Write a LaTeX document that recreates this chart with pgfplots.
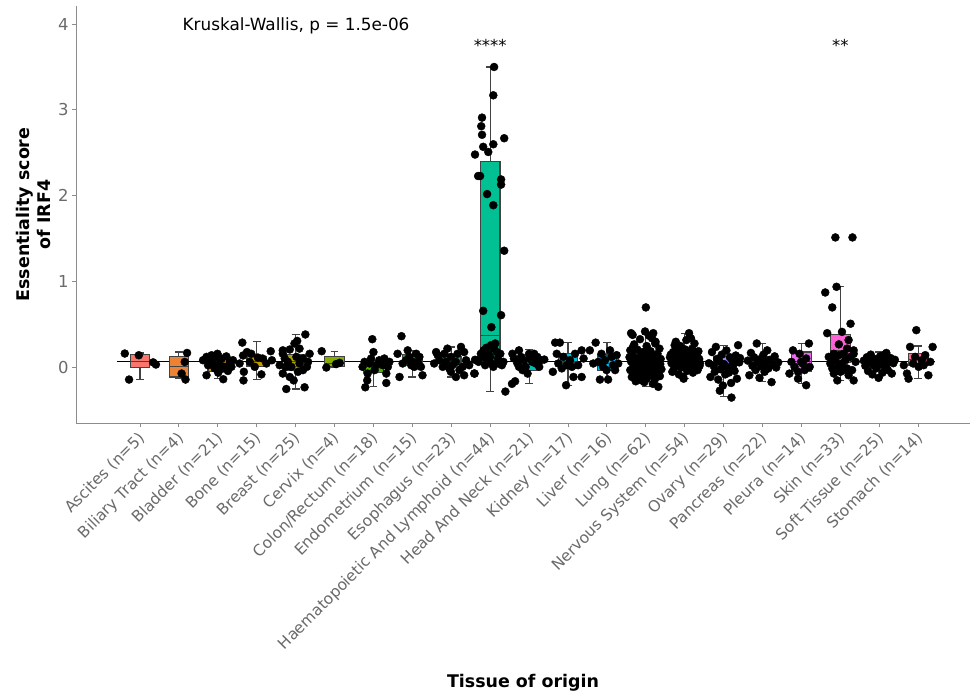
\documentclass[border=0pt]{standalone}
\usepackage{fontspec}
\setmainfont{DejaVu Sans}
\usepackage{pgfplots}
\usepackage{pgfplotstable}
\pgfplotsset{compat=1.18}
\usepgfplotslibrary{statistics}
\usetikzlibrary{calc}

\definecolor{c1}{HTML}{F8766D}
\definecolor{c2}{HTML}{EB8335}
\definecolor{c3}{HTML}{DA8F00}
\definecolor{c4}{HTML}{C39A00}
\definecolor{c5}{HTML}{A9A400}
\definecolor{c6}{HTML}{86AC00}
\definecolor{c7}{HTML}{4CB400}
\definecolor{c8}{HTML}{00BA38}
\definecolor{c9}{HTML}{00BE6C}
\definecolor{c10}{HTML}{00C094}
\definecolor{c11}{HTML}{00C0B8}
\definecolor{c12}{HTML}{00BDD3}
\definecolor{c13}{HTML}{00B5EC}
\definecolor{c14}{HTML}{00ABFD}
\definecolor{c15}{HTML}{619CFF}
\definecolor{c16}{HTML}{A58AFF}
\definecolor{c17}{HTML}{CF78FF}
\definecolor{c18}{HTML}{EB68EF}
\definecolor{c19}{HTML}{FC61D5}
\definecolor{c20}{HTML}{FF63B7}
\definecolor{c21}{HTML}{FF6C90}
\definecolor{boxc}{HTML}{424242}
\definecolor{axc}{HTML}{8C8C8C}
\definecolor{tlc}{HTML}{6A6A6A}

% category, lower whisker, lower quartile, median, upper quartile, upper whisker
\pgfplotstableread{
pos lw q1 med q3 uw
1 -0.14 0.00 0.07 0.155 0.17
2 -0.13 -0.11 0.015 0.13 0.18
3 -0.13 -0.05 0.02 0.09 0.16
4 -0.14 0.01 0.07 0.13 0.30
5 -0.25 -0.03 0.07 0.15 0.38
6 0.00 0.01 0.05 0.13 0.19
7 -0.225 -0.06 0.045 0.085 0.16
8 -0.11 0.025 0.09 0.155 0.20
9 -0.11 0.01 0.07 0.13 0.24
10 -0.28 0.06 0.375 2.40 3.50
11 -0.19 -0.03 0.07 0.145 0.21
12 -0.205 -0.01 0.065 0.165 0.29
13 -0.14 -0.03 0.05 0.145 0.29
14 -0.22 -0.03 0.06 0.16 0.38
15 -0.13 0.00 0.07 0.16 0.40
16 -0.34 -0.06 0.05 0.13 0.26
17 -0.16 -0.01 0.065 0.13 0.28
18 -0.19 -0.04 0.07 0.18 0.28
19 -0.15 0.06 0.20 0.38 0.94
20 -0.12 -0.01 0.05 0.11 0.18
21 -0.13 0.03 0.09 0.16 0.25
}\boxstats

\pgfplotstableread{
x y
0.61 0.163
0.97 0.143
1.34 0.06
1.41 0.035
0.72 -0.14
2.21 0.17
2.15 0.065
2.07 -0.07
2.17 -0.14
2.71 0.124
2.84 0.143
2.97 0.124
3.10 0.105
3.22 0.13
2.75 0.027
2.92 -0.01
3.05 0.045
3.18 0.008
3.31 0.066
2.71 -0.09
3.14 -0.136
3.01 -0.06
3.26 -0.04
2.79 0.085
3.35 0.008
2.88 0.045
3.08 -0.02
2.62 0.085
3.39 0.085
2.99 0.16
3.63 0.29
3.67 -0.05
3.66 -0.15
3.86 0.16
3.95 0.008
4.12 -0.08
4.36 0.19
4.39 0.085
3.65 0.14
3.82 0.066
4.03 0.116
4.25 0.047
3.56 0.047
3.75 0.18
4.15 0.105
5.25 0.385
5.04 0.31
4.76 -0.25
5.23 -0.23
4.95 -0.15
4.67 0.20
4.85 0.21
4.67 -0.07
5.32 0.066
5.36 0.16
5.10 0.22
5.19 -0.03
4.80 0.066
5.02 0.124
4.89 0.008
4.72 0.105
5.29 0.008
4.59 0.027
4.97 0.28
5.10 0.047
4.85 -0.11
5.19 0.105
4.74 0.008
5.06 -0.05
4.67 0.16
5.67 0.19
5.79 0.00
6.04 0.04
6.13 0.054
6.97 0.33
7.00 0.18
6.79 -0.23
6.84 -0.15
7.33 -0.18
7.33 -0.07
7.03 -0.03
6.72 0.008
7.28 0.105
7.41 0.066
7.15 0.085
6.90 0.047
7.07 0.027
6.85 -0.07
7.24 0.027
6.94 0.105
7.37 0.008
6.77 0.066
7.72 0.365
7.67 -0.11
8.26 -0.09
7.88 0.20
7.92 0.124
8.14 0.066
8.18 0.124
7.75 0.047
7.97 0.027
8.10 0.16
7.62 0.16
8.05 0.008
7.84 0.085
8.22 0.008
8.01 0.066
8.61 0.18
8.90 0.22
9.25 0.24
9.33 0.18
8.69 0.085
8.99 0.124
9.12 0.066
9.38 0.085
8.78 0.008
8.95 -0.012
9.21 -0.03
9.33 -0.09
9.12 -0.11
9.59 -0.07
8.65 0.144
8.86 0.066
9.03 0.027
9.29 0.008
8.56 0.047
8.82 0.16
9.16 0.16
9.46 0.027
8.99 -0.05
10.10 3.50
10.08 3.17
9.79 2.91
9.77 2.81
9.79 2.71
10.36 2.67
10.08 2.60
9.82 2.57
9.95 2.51
9.61 2.48
9.74 2.23
9.69 2.23
10.28 2.19
10.28 2.13
9.92 2.02
10.08 1.89
10.36 1.36
9.82 0.66
10.28 0.61
10.03 0.47
9.90 0.23
10.13 0.28
9.66 0.085
9.60 -0.07
10.39 -0.28
9.96 0.16
10.17 0.18
9.83 0.124
10.34 0.066
10.04 0.047
9.70 0.066
10.26 0.16
9.87 0.027
10.20 0.105
9.76 0.16
10.08 0.008
10.30 0.027
10.00 0.124
10.21 0.047
9.92 0.085
9.61 0.09
10.10 0.22
10.02 0.26
9.83 0.20
10.56 -0.19
10.64 -0.16
10.74 0.20
10.57 0.16
10.79 0.124
10.91 0.008
11.04 0.105
11.17 0.047
11.30 0.085
11.39 0.093
10.83 -0.03
11.00 0.16
10.70 0.047
11.08 0.066
10.87 0.085
10.61 0.105
11.21 0.124
10.96 -0.07
10.74 0.008
11.26 0.008
11.13 0.16
11.67 0.29
11.79 0.29
11.61 -0.05
11.95 -0.206
12.14 -0.11
12.35 -0.11
11.75 0.047
11.88 0.124
12.05 0.085
12.18 0.16
12.35 0.20
12.26 0.027
11.97 0.027
11.71 0.16
12.10 0.008
12.40 0.105
11.84 -0.01
12.71 0.29
12.56 0.20
12.82 -0.14
13.03 -0.14
12.99 -0.03
13.21 -0.03
13.29 0.047
13.12 0.124
12.86 0.16
12.78 0.066
12.95 0.085
13.16 0.027
12.65 0.047
13.25 0.144
12.90 0.008
13.08 0.20
13.62 0.40
13.66 0.38
13.98 0.42
14.19 0.40
14.08 0.37
13.85 0.33
14.25 0.30
13.70 0.27
14.02 0.25
14.35 0.22
13.60 0.20
13.78 0.21
13.92 0.18
14.12 0.19
14.30 0.16
13.65 0.15
13.88 0.14
14.05 0.13
14.22 0.12
14.38 0.10
13.72 0.11
13.95 0.09
14.15 0.08
13.62 0.07
13.83 0.06
14.28 0.06
14.00 0.05
13.68 0.03
13.90 0.02
14.10 0.03
14.33 0.02
13.76 0.00
14.20 -0.01
13.97 -0.02
13.60 -0.03
14.40 -0.02
13.86 -0.04
14.07 -0.05
14.26 -0.06
13.70 -0.07
13.93 -0.08
14.14 -0.09
14.36 -0.10
13.64 -0.11
13.80 -0.12
14.02 -0.13
14.23 -0.14
13.74 -0.16
13.96 -0.17
14.18 -0.19
14.32 -0.225
13.84 0.10
14.11 0.15
13.67 0.24
14.37 0.04
13.89 -0.15
14.04 0.21
13.79 0.05
14.24 0.28
13.58 0.12
14.00 0.70
14.16 0.34
14.62 0.12
14.66 0.05
14.70 0.18
14.72 -0.02
14.75 0.10
14.78 0.22
14.80 0.03
14.83 0.14
14.85 -0.08
14.87 0.07
14.89 0.25
14.91 0.00
14.93 0.16
14.95 0.09
14.96 -0.11
14.98 0.20
15.00 0.04
15.02 0.12
15.04 0.32
15.06 -0.04
15.08 0.08
15.09 0.17
15.11 0.40
15.13 0.02
15.15 0.13
15.17 0.06
15.19 0.22
15.21 -0.06
15.23 0.11
15.25 0.28
15.27 0.01
15.29 0.15
15.31 0.08
15.33 -0.03
15.35 0.19
15.37 0.10
15.39 0.05
14.64 0.15
14.68 -0.05
14.74 0.26
14.82 0.08
14.88 0.12
14.94 0.05
15.01 0.21
15.07 0.14
15.14 -0.01
15.20 0.07
15.26 0.18
15.32 0.13
15.38 0.02
14.77 0.30
14.97 -0.13
15.16 0.34
14.86 0.19
15.62 0.05
15.66 -0.11
15.70 0.18
15.74 0.02
15.77 -0.05
15.80 0.24
15.83 0.10
15.86 -0.14
15.89 0.07
15.92 -0.02
15.95 0.15
15.98 -0.21
16.01 0.04
16.04 -0.08
16.07 0.20
16.10 0.00
16.13 -0.06
16.16 0.12
16.19 -0.18
16.22 0.08
16.25 0.03
16.28 -0.04
16.31 0.14
16.34 -0.13
16.37 0.26
16.40 0.06
16.20 -0.35
15.90 -0.27
16.42 0.11
16.62 0.08
16.66 -0.09
16.70 0.17
16.74 0.02
16.78 0.12
16.82 -0.03
16.85 0.28
16.88 0.06
16.92 -0.12
16.95 0.10
16.98 0.01
17.02 0.15
17.05 -0.05
17.08 0.07
17.12 0.20
17.15 -0.01
17.19 0.09
17.23 -0.17
17.27 0.04
17.31 0.13
17.35 0.00
17.40 0.06
18.19 0.28
17.78 0.20
18.12 -0.206
17.69 -0.07
17.91 -0.13
18.03 0.047
18.12 0.105
17.82 0.008
18.21 0.008
17.95 0.16
18.08 -0.03
17.74 0.066
17.99 0.066
17.91 -0.05
18.87 1.515
19.31 1.515
18.90 0.94
18.61 0.874
18.79 0.70
19.26 0.51
19.04 0.415
19.21 0.32
18.66 0.40
18.96 0.27
19.34 0.20
18.83 0.16
18.74 0.047
18.92 0.008
19.13 0.085
19.30 -0.03
19.34 -0.15
19.00 -0.05
18.83 -0.07
19.17 -0.01
19.39 0.066
18.70 0.124
19.08 0.16
18.87 0.085
19.26 0.124
18.79 -0.01
19.04 0.047
19.21 -0.09
18.96 0.144
19.17 0.22
18.92 -0.15
19.08 -0.03
19.34 0.16
19.60 0.08
19.64 0.02
19.68 0.12
19.71 -0.04
19.75 0.06
19.78 0.15
19.82 -0.08
19.85 0.03
19.88 0.10
19.92 -0.01
19.95 0.07
19.98 -0.12
20.02 0.13
20.05 0.04
20.08 -0.06
20.12 0.09
20.15 0.01
20.18 0.17
20.22 -0.03
20.25 0.06
20.29 0.11
20.32 -0.07
20.36 0.05
20.40 0.09
20.10 0.14
20.95 0.435
20.79 0.24
21.37 0.24
20.71 -0.07
20.75 -0.13
21.26 -0.09
21.09 0.085
20.92 0.124
21.31 0.066
20.63 0.027
21.01 0.008
21.18 0.144
20.87 0.047
21.14 0.027
}\pts

\newcommand{\bx}[2]{%
  \pgfplotstablegetelem{#1}{lw}\of\boxstats\let\vlw\pgfplotsretval
  \pgfplotstablegetelem{#1}{q1}\of\boxstats\let\vqa\pgfplotsretval
  \pgfplotstablegetelem{#1}{med}\of\boxstats\let\vmed\pgfplotsretval
  \pgfplotstablegetelem{#1}{q3}\of\boxstats\let\vqb\pgfplotsretval
  \pgfplotstablegetelem{#1}{uw}\of\boxstats\let\vuw\pgfplotsretval
  \pgfmathtruncatemacro{\vpos}{#1+1}
  \edef\doplot{\noexpand\addplot[fill=#2, draw=boxc, line width=1.2bp,
    boxplot prepared={draw direction=y, draw position=\vpos, lower whisker=\vlw,
    lower quartile=\vqa, median=\vmed, upper quartile=\vqb,
    upper whisker=\vuw}] coordinates {};}
  \doplot
}

\begin{document}
\begin{tikzpicture}
\begin{axis}[
  scale only axis, width=894bp, height=417bp,
  xmin=-0.644, xmax=22.33, ymin=-0.646, ymax=4.21,
  axis lines=left,
  axis line style={-, draw=axc, line width=0.9bp},
  tick align=outside, major tick length=4bp,
  tick style={draw=axc, line width=0.9bp},
  xtick={1,...,21},
  xticklabels={Ascites (n=5), Biliary Tract (n=4), Bladder (n=21), Bone (n=15),
    Breast (n=25), Cervix (n=4), Colon/Rectum (n=18), Endometrium (n=15),
    Esophagus (n=23), Haematopoietic And Lymphoid (n=44), Head And Neck (n=21),
    Kidney (n=17), Liver (n=16), Lung (n=62), Nervous System (n=54),
    Ovary (n=29), Pancreas (n=22), Pleura (n=14), Skin (n=33),
    Soft Tissue (n=25), Stomach (n=14)},
  ytick={0,1,2,3,4},
  /pgf/number format/assume math mode=true,
  yticklabel style={font=\fontsize{16.5}{18}\selectfont, text=tlc},
  xticklabel style={font=\fontsize{15.6}{18}\selectfont, text=tlc,
    rotate=45, anchor=north east, inner sep=1.5bp, xshift=-3bp, yshift=1bp},
  ylabel={Essentiality score\\of IRF4},
  xlabel={Tissue of origin},
  every axis y label/.style={at={(axis description cs:-0.0475,0.5)}, rotate=90,
    anchor=center, align=center, font=\bfseries\fontsize{17.5}{21}\selectfont},
  every axis x label/.style={at={(axis description cs:0.5,-0.6235)},
    anchor=center, font=\bfseries\fontsize{17.5}{21}\selectfont},
  boxplot/draw direction=y,
  boxplot/box extend=0.5,
  boxplot/whisker extend=0.2,
  boxplot/every whisker/.style={draw=boxc, line width=1.2bp},
  boxplot/every median/.style={draw=boxc, line width=1.2bp},
  clip=false,
]
\addplot[black, line width=1.1bp, forget plot] coordinates {(0.41,0.075) (21.44,0.075)};
\bx{0}{c1}\bx{1}{c2}\bx{2}{c3}\bx{3}{c4}\bx{4}{c5}\bx{5}{c6}\bx{6}{c7}
\bx{7}{c8}\bx{8}{c9}\bx{9}{c10}\bx{10}{c11}\bx{11}{c12}\bx{12}{c13}
\bx{13}{c14}\bx{14}{c15}\bx{15}{c16}\bx{16}{c17}\bx{17}{c18}\bx{18}{c19}
\bx{19}{c20}\bx{20}{c21}
\addplot[only marks, mark=*, mark size=4bp, black] table[x=x, y=y] {\pts};
\node[anchor=base, font=\fontsize{16.9}{18}\selectfont] at (axis cs:5.01,3.92) {Kruskal-Wallis, p = 1.5e-06};
\node[anchor=base, font=\fontsize{16.5}{18}\selectfont] at (axis cs:10,3.675) {****};
\node[anchor=base, font=\fontsize{16.5}{18}\selectfont] at (axis cs:19,3.675) {**};
\end{axis}
\pgfresetboundingbox
\path[use as bounding box] ($(current axis.south west)+(-76bp,-273bp)$) rectangle ($(current axis.north east)+(1bp,6bp)$);
\end{tikzpicture}
\end{document}
